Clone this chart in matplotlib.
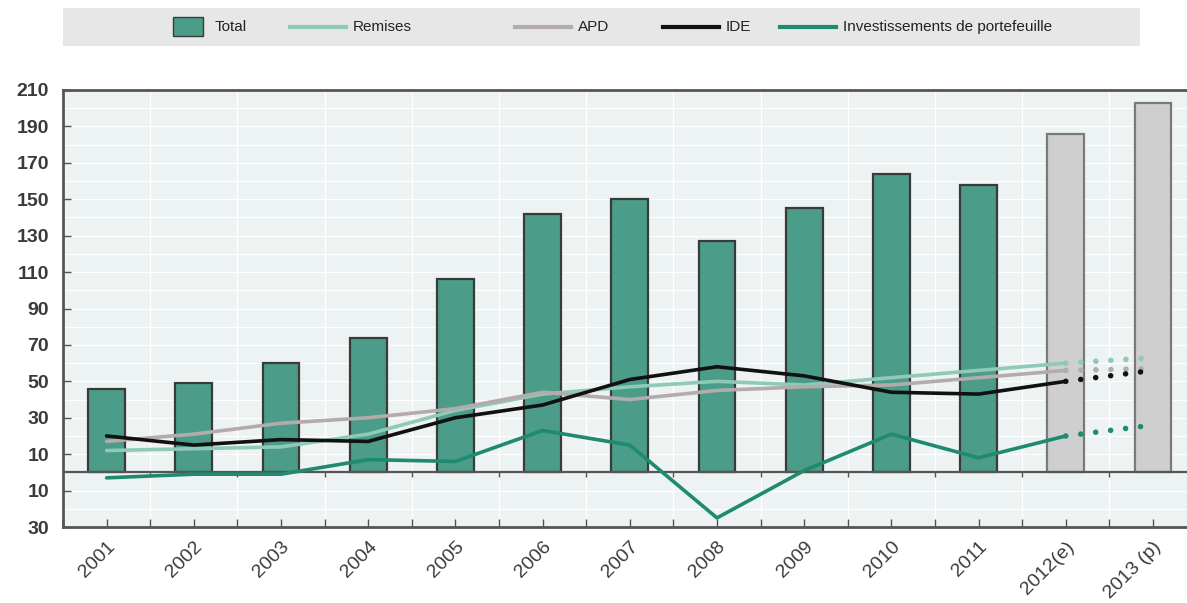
import numpy as np
import matplotlib.pyplot as plt
from matplotlib.patches import Rectangle
from matplotlib.lines import Line2D

# Data
years = ['2001', '2002', '2003', '2004', '2005', '2006', '2007', '2008',
         '2009', '2010', '2011', '2012(e)', '2013 (p)']
total = [46, 49, 60, 74, 106, 142, 150, 127, 145, 164, 158, 186, 203]
remises = [12, 13, 14, 21, 34, 43, 47, 50, 48, 52, 56, 60, 63]
apd = [17, 21, 27, 30, 35, 44, 40, 45, 47, 48, 52, 56, 57]
ide = [20, 15, 18, 17, 30, 37, 51, 58, 53, 44, 43, 50, 56]
portfolio = [-3, -1, -1, 7, 6, 23, 15, -25, 1, 21, 8, 20, 26]
n_actual = 11  # 2001-2011 observed, 2012-2013 estimate/projection

W, H = 1187, 603
fig = plt.figure(figsize=(W / 100, H / 100), dpi=100)
plt.rcParams['font.family'] = ['Liberation Sans', 'DejaVu Sans']

c_bar = '#4b9c88'
c_rem = '#8fc9b7'
c_apd = '#b4acac'
c_ide = '#111111'
c_pf = '#1e8a6f'
c_txt = '#3a3a3a'

ax = fig.add_axes([63 / W, 1 - 527 / H, (W - 63) / W, (527 - 90) / H])
ax.set_facecolor('#edf2f2')
x = np.arange(len(years))

bar_colors = [c_bar] * n_actual + ['#cfcfcf'] * (len(years) - n_actual)
edge_colors = ['#3a3a3a'] * n_actual + ['#7a7a7a'] * (len(years) - n_actual)
ax.bar(x, total, width=0.42, color=bar_colors, edgecolor=edge_colors,
       linewidth=1.6, zorder=2)

# solid for observed years, dotted towards the projection
for vals, col in [(remises, c_rem), (apd, c_apd), (ide, c_ide), (portfolio, c_pf)]:
    ax.plot(x[:n_actual + 1], vals[:n_actual + 1], color=col, lw=2.6,
            zorder=3, solid_capstyle='round')
    ax.plot(x[n_actual:], vals[n_actual:], color=col, lw=4,
            linestyle=(0, (0.01, 2.7)), dash_capstyle='round', zorder=3)

ax.axhline(0, color='#555555', lw=1.6, zorder=2.5)
ax.vlines(x[:-1] + 0.5, -2.5, 0, color='#555555', lw=1, zorder=2.5)

ax.set_xlim(-0.5, 12.39)
ax.set_ylim(-30, 210)

yt = [-30, -10, 10, 30, 50, 70, 90, 110, 130, 150, 170, 190, 210]
ax.set_yticks(yt)
ax.set_yticklabels([str(abs(v)) for v in yt], fontsize=14, color=c_txt,
                   fontweight='semibold')
ax.tick_params(axis='y', direction='in', length=6, width=1, colors='#555555',
               labelcolor=c_txt, pad=10)

ax.set_xticks(x)
ax.set_xticklabels(years, rotation=45, ha='right', va='top',
                   rotation_mode='anchor', fontsize=14, color=c_txt)
ax.set_xticks(np.arange(-0.5, 12.5, 0.5), minor=True)
ax.tick_params(axis='x', which='both', direction='in', length=6, width=1,
               colors='#555555', labelcolor=c_txt, pad=8)

ax.grid(True, which='minor', axis='x', color='white', lw=1, zorder=0)
ax.set_yticks(np.arange(-30, 211, 10), minor=True)
ax.tick_params(axis='y', which='minor', length=0)
ax.grid(True, which='both', axis='y', color='white', lw=0.8, zorder=0)
ax.set_axisbelow(True)

for s in ['left', 'bottom', 'top']:
    ax.spines[s].set_color('#555555')
    ax.spines[s].set_linewidth(2)
ax.spines['right'].set_visible(False)

# Legend band
lg = fig.add_axes([63 / W, 1 - 46 / H, (1140 - 63) / W, 38 / H])
lg.set_xlim(63, 1140)
lg.set_ylim(0, 38)
lg.set_facecolor('#e7e7e7')
lg.set_xticks([])
lg.set_yticks([])
for s in lg.spines.values():
    s.set_visible(False)
lg.add_patch(Rectangle((173, 10), 30, 19, facecolor=c_bar, edgecolor='#3a3a3a', lw=1))
lg.text(215, 19, 'Total', va='center', fontsize=11, color='#222222')
items = [(290, 'Remises', c_rem), (515, 'APD', c_apd),
         (663, 'IDE', c_ide), (780, 'Investissements de portefeuille', c_pf)]
for x0, lab, col in items:
    lg.add_line(Line2D([x0, x0 + 56], [19, 19], color=col, lw=3))
    lg.text(x0 + 63, 19, lab, va='center', fontsize=11, color='#222222')

fig.savefig('out.png', dpi=100)
